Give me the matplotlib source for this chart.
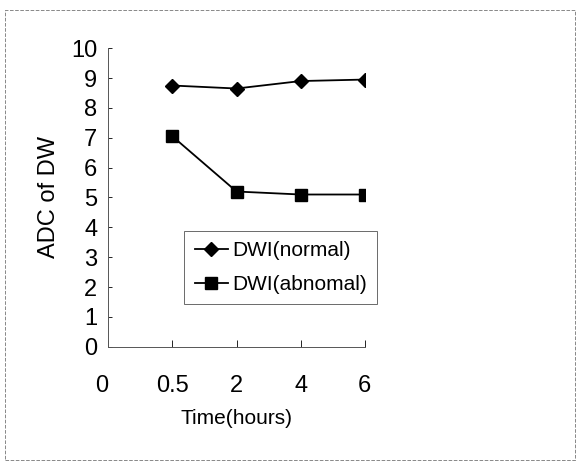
import matplotlib.pyplot as plt
from matplotlib.patches import Rectangle
from matplotlib.transforms import ScaledTranslation

labels = ["0", "0.5", "2", "4", "6"]
pos = [0, 1, 2, 3, 4]
x_data = [1, 2, 3, 4]
normal = [8.75, 8.65, 8.9, 8.95]
abnormal = [7.05, 5.2, 5.1, 5.1]

plt.rcParams['font.family'] = ['Liberation Sans', 'DejaVu Sans']

fig = plt.figure(figsize=(5.79, 4.68), dpi=100)
ax = fig.add_axes([0.187, 0.259, 0.443, 0.638])

ax.plot(x_data, normal, 'k-', marker='D', markersize=7, linewidth=1.3, label='DWI(normal)')
ax.plot(x_data, abnormal, 'k-', marker='s', markersize=8, linewidth=1.3, label='DWI(abnomal)')

ax.set_xlim(0, 4)
ax.set_ylim(0, 10)
ax.set_yticks(range(0, 11))
ax.set_xticks(pos)
ax.set_xticklabels(labels)
ax.tick_params(axis='y', direction='in', length=3, width=0.6, labelsize=17, pad=8)
ax.tick_params(axis='x', direction='in', length=5, width=0.6, labelsize=17, pad=20)
lab0 = ax.get_xticklabels()[0]
lab0.set_transform(lab0.get_transform() + ScaledTranslation(-0.07, 0, fig.dpi_scale_trans))
for s in ['top', 'right']:
    ax.spines[s].set_visible(False)
for s in ['left', 'bottom']:
    ax.spines[s].set_linewidth(0.7)
    ax.spines[s].set_color('#555555')

ax.set_ylabel('ADC of DW', fontsize=17, labelpad=8)
ax.set_xlabel('Time(hours)', fontsize=15, labelpad=9)

leg = ax.legend(loc='upper left', bbox_to_anchor=(0.296, 0.388), borderaxespad=0,
                frameon=True, fancybox=False, edgecolor='#444444', prop={'size': 15},
                handlelength=1.6, handletextpad=0.2, borderpad=0.5, labelspacing=0.7)
leg.get_frame().set_linewidth(0.7)

fig.patches.append(Rectangle((0.008, 0.017), 0.985, 0.962, transform=fig.transFigure,
                             fill=False, edgecolor='#888888', linewidth=0.7, linestyle='--'))

fig.savefig('out.png', dpi=100)
